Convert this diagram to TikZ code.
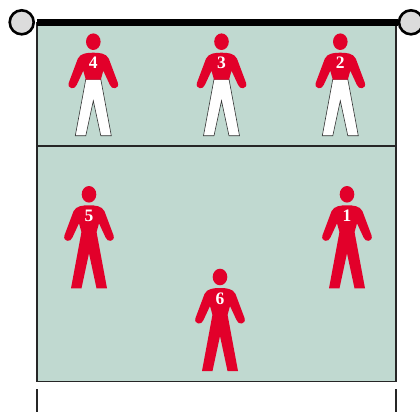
\documentclass[tikz,border=0pt]{standalone}
\usepackage{fontspec}
\setmainfont{Liberation Serif}
\definecolor{courtgreen}{HTML}{C0D9D0}
\definecolor{shirtred}{HTML}{E2002A}
\definecolor{postgrey}{HTML}{DCDCDC}
\tikzset{
  courtline/.style={draw=black!85, line width=1.2pt},
  post/.style={circle, draw=black, fill=postgrey, line width=2.6pt, minimum size=24pt, inner sep=0pt},
  shirtnum/.style={text=white, font=\fontsize{17.5}{17.5}\selectfont\bfseries, inner sep=0pt},
  whitelegs/.style={fill=white, draw=black!80, line width=.6pt},
  redlegs/.style={fill=shirtred},
  pics/player/.style 2 args={code={
    \fill[shirtred] (0,0) ellipse [x radius=7.3, y radius=8.3];
    \path[#2] (-7.5,37.5) -- (7.5,37.5) -- (18,94) -- (7.5,94)
      -- (0,59) -- (-7.5,94) -- (-18,94) -- cycle;
    \fill[shirtred] (0,11) .. controls (6,11) and (13,11.5) .. (15.5,17) -- (24.5,41)
      .. controls (26.5,47.5) and (18,48.5) .. (16.5,43) -- (10,29) -- (7.5,38) -- (-7.5,38) -- (-10,29) -- (-16.5,43)
      .. controls (-18,48.5) and (-26.5,47.5) .. (-24.5,41) -- (-15.5,17)
      .. controls (-13,11.5) and (-6,11) .. (0,11) -- cycle;
    \node[shirtnum] (num) at (0,21.5) {#1};
  }}
}
\begin{document}
\begin{tikzpicture}[x=1pt, y=-1pt]
\clip (0,0) rectangle (420,412);
% court
\fill[courtgreen] (37,22) rectangle (396,381.5);
\draw[courtline] (37,22) -- (37,381.5) -- (396,381.5) -- (396,22);
\draw[courtline] (37,146) -- (396,146);
\draw[courtline] (37,389) -- (37,412);
\draw[courtline] (396,389) -- (396,412);
% net
\fill[black] (37,19) rectangle (398,26);
\node[post] (postleft) at (21.7,22.3) {};
\node[post] (postright) at (411,22.3) {};
% players
\foreach \num/\x/\y/\legs in {4/93.3/41.7/whitelegs, 3/221.5/41.7/whitelegs, 2/340.3/41.7/whitelegs,
  5/89/194.3/redlegs, 1/347/194.3/redlegs, 6/220/277/redlegs}
  \pic (player\num) at (\x,\y) {player={\num}{\legs}};
\end{tikzpicture}
\end{document}
